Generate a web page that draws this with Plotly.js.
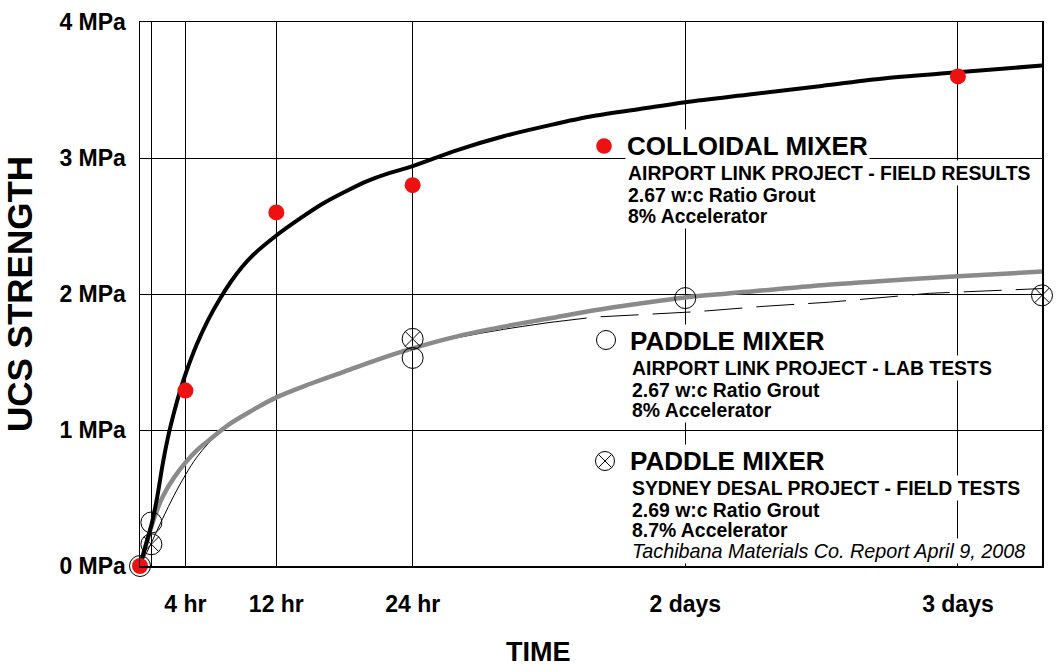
<!DOCTYPE html>
<html><head><meta charset="utf-8">
<script src="https://cdn.plot.ly/plotly-3.0.1.min.js"></script>
<style>html,body{margin:0;padding:0;background:#fff}#chart{width:1057px;height:671px}</style>
</head><body><div id="chart"></div>
<script>
// ---- data (hours, MPa) ----
const xTickVals = [1, 4, 12, 24, 48, 72];
const xTickText = ['', '4 hr', '12 hr', '24 hr', '2 days', '3 days'];
const yTickVals = [0, 1, 2, 3, 4];
const yTickText = ['0 MPa', '1 MPa', '2 MPa', '3 MPa', '4 MPa'];

const colloidalX = [0, 4, 12, 24, 72];
const colloidalY = [0, 1.29, 2.60, 2.80, 3.60];

const paddleLabX = [0, 1, 24, 48];
const paddleLabY = [0, 0.32, 1.53, 1.97];

const sydneyX = [1, 24, 79.4];
const sydneyY = [0.16, 1.67, 1.99];

const colloidalFitX = [0, 0.5, 1, 1.5, 2, 2.5, 3, 3.5, 4, 5, 6, 7, 8, 9, 10, 12, 14, 16, 18, 20, 22, 24, 28, 32, 36, 40, 44, 48, 54, 60, 66, 72, 79.4];
const colloidalFitY = [0, 0.15, 0.30, 0.50, 0.75, 0.96, 1.13, 1.28, 1.41, 1.63, 1.81, 1.96, 2.09, 2.20, 2.29, 2.43, 2.55, 2.66, 2.75, 2.83, 2.89, 2.94, 3.06, 3.16, 3.24, 3.31, 3.36, 3.41, 3.47, 3.53, 3.59, 3.63, 3.68];

const paddleFitX = [0, 0.5, 1, 1.5, 2, 3, 4, 5, 6, 8, 10, 12, 15, 18, 21, 24, 28, 32, 36, 40, 44, 48, 54, 60, 66, 72, 79.4];
const paddleFitY = [0, 0.15, 0.29, 0.41, 0.51, 0.65, 0.76, 0.85, 0.92, 1.05, 1.15, 1.24, 1.34, 1.43, 1.52, 1.60, 1.69, 1.76, 1.82, 1.88, 1.93, 1.975, 2.02, 2.065, 2.10, 2.13, 2.165];

const sydneyFitX = [0, 1, 2, 3, 4, 5, 6, 7, 8, 10, 12, 15, 18, 21, 24, 28, 32, 36];
const sydneyFitY = [0, 0.17, 0.35, 0.52, 0.67, 0.80, 0.90, 0.98, 1.05, 1.15, 1.24, 1.34, 1.43, 1.52, 1.60, 1.68, 1.74, 1.79];
const sydneyDashX = [36, 40, 49, 55, 60.7, 69.5, 79.4];
const sydneyDashY = [1.79, 1.83, 1.87, 1.91, 1.94, 2.005, 2.04];

// ---- layout geometry helpers ----
const L = 140, R = 1042, T = 22, B = 566;
const px = v => (v - L) / (R - L);
const py = v => (B - v) / (B - T);
const FONT = 'Liberation Sans, Arial, sans-serif';

const traces = [
  {x: sydneyFitX, y: sydneyFitY, mode: 'lines', line: {color: '#000', width: 1, shape: 'spline'}},
  {x: sydneyDashX, y: sydneyDashY, mode: 'lines', line: {color: '#000', width: 1, dash: '38px,14px'}},
  {x: paddleFitX, y: paddleFitY, mode: 'lines', line: {color: '#8a8a8a', width: 4.5, shape: 'spline'}},
  {x: colloidalFitX, y: colloidalFitY, mode: 'lines', line: {color: '#000', width: 4, shape: 'spline'}},
  {x: paddleLabX, y: paddleLabY, mode: 'markers', cliponaxis: false,
   marker: {symbol: 'circle-open', size: 21, color: '#000', line: {width: 1, color: '#000'}}},
  {x: sydneyX, y: sydneyY, mode: 'markers', cliponaxis: false,
   marker: {symbol: 'circle-x-open', size: 21, color: '#000', line: {width: 1, color: '#000'}}},
  {x: colloidalX, y: colloidalY, mode: 'markers', cliponaxis: false,
   marker: {symbol: 'circle', size: 16, color: '#ee1111', line: {width: 0}}}
];

function ann(text, x, y, size, opts) {
  return Object.assign({
    text: text, xref: 'paper', yref: 'paper', x: px(x), y: py(y),
    xanchor: 'left', yanchor: 'middle', showarrow: false,
    bgcolor: '#fff', borderpad: 1,
    font: {family: FONT, size: size, color: '#000', weight: 'bold'}
  }, opts || {});
}

const annotations = [
  ann('COLLOIDAL MIXER', 625, 146, 26),
  ann('AIRPORT LINK PROJECT - FIELD RESULTS', 626, 173, 19.4),
  ann('2.67 w:c Ratio Grout', 626, 195, 19.4),
  ann('8% Accelerator', 626, 216, 19.4),

  ann('PADDLE MIXER', 628, 341, 26),
  ann('AIRPORT LINK PROJECT - LAB TESTS', 630, 368, 19.4),
  ann('2.67 w:c Ratio Grout', 630, 390, 19.4),
  ann('8% Accelerator', 630, 410, 19.4),

  ann('PADDLE MIXER', 628, 461, 26),
  ann('SYDNEY DESAL PROJECT - FIELD TESTS', 630, 488, 19.4),
  ann('2.69 w:c Ratio Grout', 630, 510, 19.4),
  ann('8.7% Accelerator', 630, 530, 19.4),
  ann('<i>Tachibana Materials Co. Report April 9, 2008</i>', 630, 551, 19.8,
      {font: {family: FONT, size: 19.8, color: '#000', weight: 'normal'}}),

  {text: 'TIME', xref: 'paper', yref: 'paper', x: px(538), y: py(652),
   xanchor: 'center', yanchor: 'middle', showarrow: false,
   font: {family: FONT, size: 27, color: '#000', weight: 'bold'}}
];

function circ(cx, cy, r, fill, lineW) {
  return {type: 'circle', xref: 'paper', yref: 'paper', xsizemode: 'pixel', ysizemode: 'pixel',
    xanchor: px(cx), yanchor: py(cy), x0: -r, x1: r, y0: -r, y1: r,
    fillcolor: fill, line: {color: fill === '#ee1111' ? fill : '#000', width: lineW}, layer: 'above'};
}
function seg(cx, cy, dx0, dy0, dx1, dy1) {
  return {type: 'line', xref: 'paper', yref: 'paper', xsizemode: 'pixel', ysizemode: 'pixel',
    xanchor: px(cx), yanchor: py(cy), x0: dx0, x1: dx1, y0: dy0, y1: dy1,
    line: {color: '#000', width: 1}, layer: 'above'};
}
const shapes = [
  circ(604, 146, 7.8, '#ee1111', 0),
  circ(606, 340, 9.5, '#fff', 1),
  circ(605, 461, 9.5, '#fff', 1),
  seg(605, 461, -6.7, -6.7, 6.7, 6.7),
  seg(605, 461, -6.7, 6.7, 6.7, -6.7)
];

const layout = {
  width: 1057, height: 671,
  margin: {l: L, r: 1057 - R, t: T, b: 671 - B},
  paper_bgcolor: '#fff', plot_bgcolor: '#fff',
  showlegend: false,
  font: {family: FONT, color: '#000'},
  xaxis: {
    range: [0, 79.4], tickmode: 'array', tickvals: xTickVals, ticktext: xTickText,
    showgrid: true, gridcolor: '#000', gridwidth: 1, zeroline: false,
    showline: true, linecolor: '#000', linewidth: 1.5, mirror: true,
    ticks: '', ticklabelstandoff: 17,
    tickfont: {family: FONT, size: 23, weight: 'bold', color: '#000'},
    fixedrange: true
  },
  yaxis: {
    range: [0, 4], tickmode: 'array', tickvals: yTickVals, ticktext: yTickText,
    showgrid: true, gridcolor: '#000', gridwidth: 1, zeroline: false,
    showline: true, linecolor: '#000', linewidth: 1.5, mirror: true,
    ticks: '', ticklabelstandoff: 8,
    tickfont: {family: FONT, size: 23, weight: 'bold', color: '#000'},
    title: {text: 'UCS STRENGTH', standoff: 18, font: {family: FONT, size: 35, weight: 'bold', color: '#000'}},
    fixedrange: true
  },
  annotations: annotations,
  shapes: shapes
};

Plotly.newPlot('chart', traces, layout, {displayModeBar: false, staticPlot: true});
</script>
</body></html>
